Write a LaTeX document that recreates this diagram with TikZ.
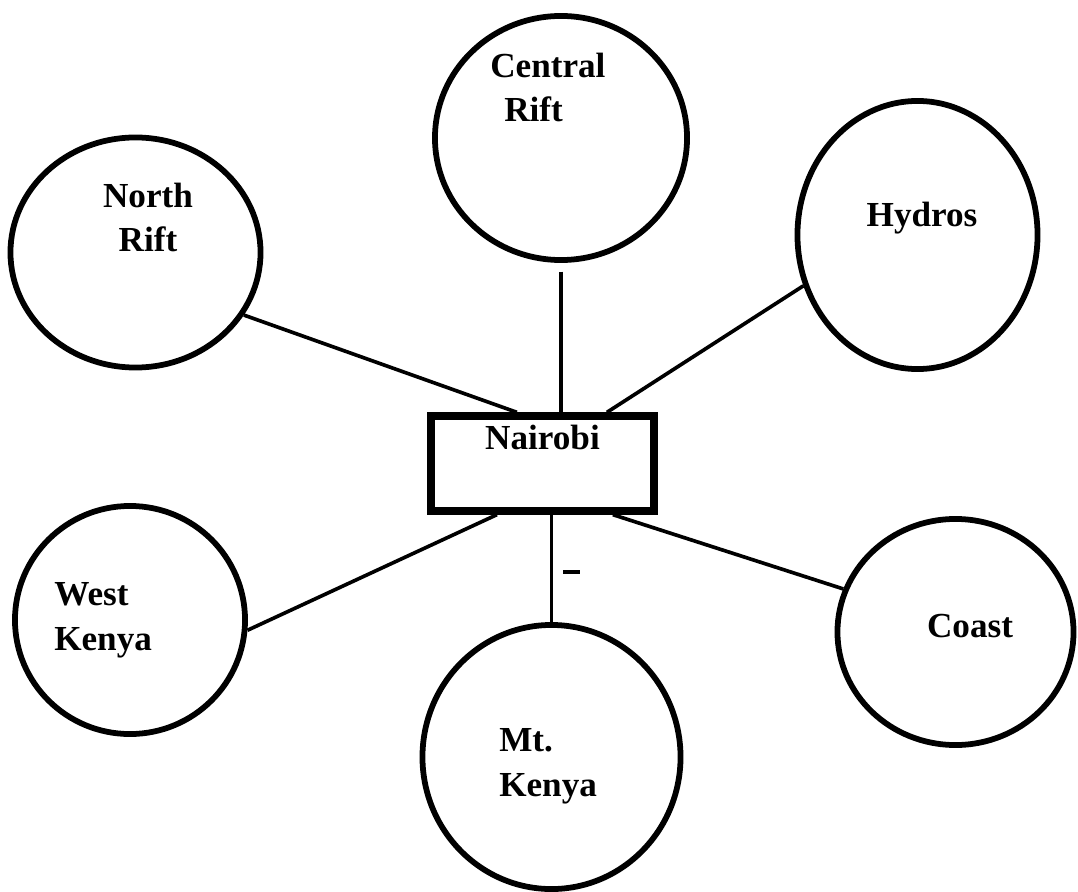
\documentclass[tikz,border=0pt]{standalone}
\usepackage{fontspec}
\setmainfont{Liberation Serif}
\usetikzlibrary{shapes.geometric,calc}

\begin{document}
\begin{tikzpicture}[x=0.025cm,y=-0.025cm,
        region/.style={draw,ellipse,line width=4.1pt,inner sep=0pt},
        hub/.style={draw,rectangle,line width=5.2pt,inner sep=0pt,minimum width=5.575cm,
          text height=0.85cm,text depth=1.525cm,font=\fontsize{25}{31.3}\selectfont\bfseries},
        link/.style={line width=2.6pt},
        lbl/.style={inner sep=0pt,font=\fontsize{25}{31.3}\selectfont\bfseries}]
        \useasboundingbox (0,0) rectangle (1078,892);
        % regions round the hub
        \node[region,minimum width=6.3cm,minimum height=6.1cm] (crift) at (561,138) {};
        \node[region,minimum width=6.25cm,minimum height=5.75cm] (nrift) at (135.5,252.5) {};
        \node[region,minimum width=6.0cm,minimum height=6.7cm] (hydros) at (917.5,235) {};
        \node[region,minimum width=5.75cm,minimum height=5.7cm] (wkenya) at (130,620) {};
        \node[region,minimum width=5.9cm,minimum height=5.65cm] (coast) at (955.5,632) {};
        \node[region,minimum width=6.45cm,minimum height=6.6cm] (mtkenya) at (551.5,757) {};
        \node[hub] (nairobi) at (542.5,463.5) {Nairobi};
        % labels (base = last line)
        \node[lbl,anchor=base west,align=left] (crifttxt) at (490,122) {Central\\\hspace*{0.35cm}Rift};
        \node[lbl,anchor=base,align=center] (nrifttxt) at (148,252) {North\\Rift};
        \node[lbl,anchor=base] (hydrostxt) at (922,227) {Hydros};
        \node[lbl,anchor=base west,align=left] (wkenyatxt) at (54,650) {West\\Kenya};
        \node[lbl,anchor=base] (coasttxt) at (970,637) {Coast};
        \node[lbl,anchor=base west,align=left] (mtkenyatxt) at (499,796) {Mt.\\Kenya};
        % links
        \draw[link] (nrift.-30) -- ([xshift=-0.64cm]nairobi.north);
        \draw[link,shorten <=0.22cm] (crift.south) -- (crift.south |- nairobi.north);
        \draw[link] (hydros.-156) -- ([xshift=1.61cm]nairobi.north);
        \draw[link] (wkenya.-5) -- ([xshift=-1.14cm]nairobi.south);
        \draw[link] (mtkenya.north) -- (mtkenya.north |- nairobi.south);
        \draw[link] (coast.159) -- ([xshift=1.76cm]nairobi.south);
        \draw[link] (563,572) -- (580,572);
\end{tikzpicture}
\end{document}
